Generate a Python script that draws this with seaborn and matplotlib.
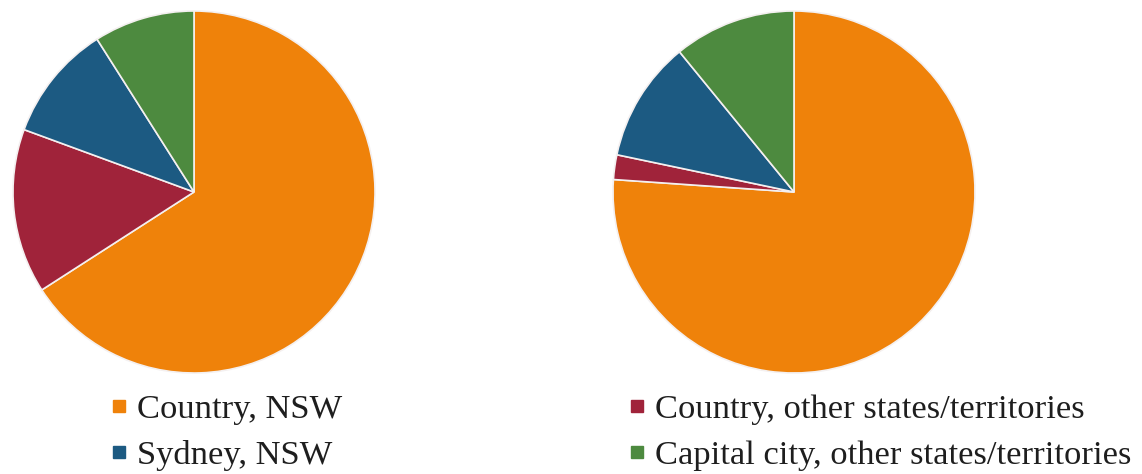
import matplotlib
matplotlib.use("Agg")
import matplotlib.pyplot as plt
from matplotlib.lines import Line2D
import seaborn as sns

# Share of people by place of residence (percent)
categories = ["Country, NSW", "Country, other states/territories",
              "Sydney, NSW", "Capital city, other states/territories"]
left_values = [65.9, 14.7, 10.4, 9.0]
right_values = [76.1, 2.2, 10.8, 10.9]

sns.set_theme(style="white")
plt.rcParams["font.family"] = ["Liberation Serif", "DejaVu Serif"]

palette = sns.color_palette(["#EF820A", "#A0233A", "#1C5A82", "#4D8A3F"])

fig = plt.figure(figsize=(11.42, 4.74), dpi=100)
fig.patch.set_facecolor("white")

W, H = 1142, 474
size = 362
for x0, vals in [(13, left_values), (613, right_values)]:
    ax = fig.add_axes([x0 / W, (H - 373) / H, size / W, size / H])
    ax.pie(vals, colors=palette, startangle=90, counterclock=False,
           wedgeprops=dict(edgecolor="#f4f0f0", linewidth=1.2))
    ax.set_xlim(-1.0, 1.0)
    ax.set_ylim(-1.0, 1.0)
    ax.set_aspect("equal")
    ax.axis("off")

def handle(c):
    return Line2D([], [], marker="s", linestyle="none", markersize=8.5,
                  markerfacecolor=c, markeredgecolor=c)

leg_kw = dict(frameon=False, fontsize=24.8, handlelength=0.4,
              handletextpad=0.33, labelspacing=0.44, borderpad=0,
              borderaxespad=0, labelcolor="#1e1e1e")
fig.legend([handle(palette[0]), handle(palette[2])],
           [categories[0], categories[2]],
           loc="upper left", bbox_to_anchor=(112 / W, 1 - 394 / H), **leg_kw)
fig.legend([handle(palette[1]), handle(palette[3])],
           [categories[1], categories[3]],
           loc="upper left", bbox_to_anchor=(630 / W, 1 - 394 / H), **leg_kw)

fig.savefig("out.png", dpi=100, facecolor="white")
